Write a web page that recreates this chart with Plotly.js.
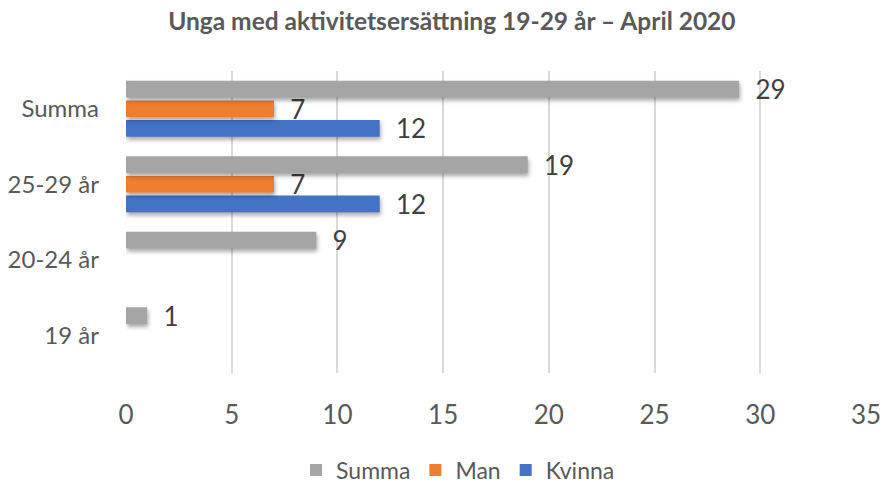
<!DOCTYPE html>
<html><head><meta charset="utf-8">
<script src="https://cdn.plot.ly/plotly-3.0.1.min.js"></script>
<style>html,body{margin:0;padding:0;background:#fff;}#chart{width:886px;height:486px;}
.barlayer .point path{filter:drop-shadow(1px 3px 2px rgba(0,0,0,0.35));}</style>
</head><body><div id="chart"></div>
<script>
const categories = ["19 år", "20-24 år", "25-29 år", "Summa"];
const summaValues = [1, 9, 19, 29];
const manValues = [null, null, 7, 7];
const kvinnaValues = [null, null, 12, 12];
const xTicks = [0, 5, 10, 15, 20, 25, 30, 35];
const titleText = "Unga med aktivitetsersättning 19-29 år – April 2020";

const FONT = "Lato, 'Open Sans', sans-serif";
const labelFont = {family: FONT, size: 26, color: "#404040"};

function trace(name, vals, color) {
  return {
    type: "bar", orientation: "h", name: name,
    x: vals, y: categories,
    marker: {color: color},
    text: vals.map(v => v == null ? "" : "\u00a0\u00a0" + v),
    textposition: "outside", textfont: labelFont,
    constraintext: "none", cliponaxis: false,
    hoverinfo: "x+name"
  };
}

const data = [
  trace("Kvinna", kvinnaValues, "#4472C4"),
  trace("Man", manValues, "#ED7D31"),
  trace("Summa", summaValues, "#A5A5A5")
];

const layout = {
  width: 886, height: 486,
  margin: {l: 126, r: 20, t: 71, b: 113, autoexpand: false},
  paper_bgcolor: "#fff", plot_bgcolor: "#fff",
  barmode: "group", bargap: 0.22, bargroupgap: 0.15,
  title: {text: "<b>" + titleText + "</b>", font: {family: FONT, size: 24.5, color: "#595959"},
          x: 0.51, xanchor: "center", xref: "container", y: 0.955, yanchor: "middle"},
  xaxis: {range: [0, 35], tickvals: xTicks, ticktext: xTicks.map(String),
          showgrid: true, gridcolor: "#D9D9D9", gridwidth: 2, zeroline: false,
          showline: false, ticks: "", ticklabelstandoff: 24,
          tickfont: {family: FONT, size: 26, color: "#595959"}, fixedrange: true},
  yaxis: {type: "category", categoryorder: "array", categoryarray: categories,
          showgrid: false, zeroline: false, showline: false, ticks: "",
          ticklabelstandoff: 26,
          tickfont: {family: FONT, size: 24, color: "#595959"}, fixedrange: true},
  showlegend: true,
  legend: {orientation: "h", x: 0.517, xanchor: "center", xref: "container",
           y: 0.033, yanchor: "middle", yref: "container",
           traceorder: "reversed", font: {family: FONT, size: 23, color: "#595959"},
           itemwidth: 30, itemsizing: "constant"}
};

Plotly.newPlot("chart", data, layout, {displayModeBar: false, staticPlot: true});
</script></body></html>
